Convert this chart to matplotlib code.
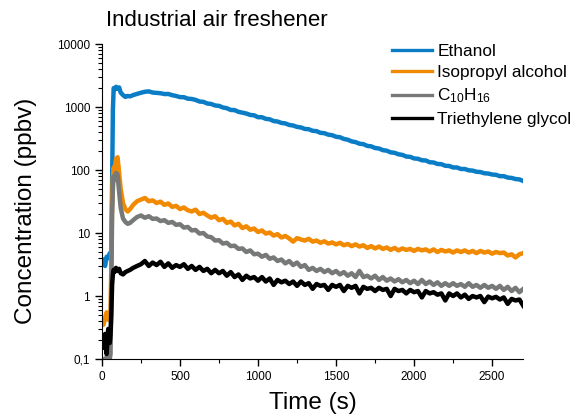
import matplotlib.pyplot as plt
from matplotlib.ticker import FixedLocator, FuncFormatter, LogLocator, MultipleLocator

plt.rcParams['font.family'] = ['Liberation Sans', 'DejaVu Sans']
plt.rcParams['mathtext.fontset'] = 'custom'
plt.rcParams['mathtext.rm'] = 'Liberation Sans'
plt.rcParams['mathtext.it'] = 'Liberation Sans:italic'

# time axis (s)
time = [0, 10, 20, 30, 40, 50, 55, 60, 65, 70, 75, 80, 90, 100, 110, 120, 135, 150, 165, 180, 200, 225,
        250, 275, 300, 325, 350, 375, 400, 425, 450, 475,
        500, 525, 550, 575, 600, 625, 650, 675, 700, 725,
        750, 775, 800, 825, 850, 875, 900, 925, 950, 975,
        1000, 1025, 1050, 1075, 1100, 1125, 1150, 1175, 1200, 1225,
        1250, 1275, 1300, 1325, 1350, 1375, 1400, 1425, 1450, 1475,
        1500, 1525, 1550, 1575, 1600, 1625, 1650, 1675, 1700, 1725,
        1750, 1775, 1800, 1825, 1850, 1875, 1900, 1925, 1950, 1975,
        2000, 2025, 2050, 2075, 2100, 2125, 2150, 2175, 2200, 2225,
        2250, 2275, 2300, 2325, 2350, 2375, 2400, 2425, 2450, 2475,
        2500, 2525, 2550, 2575, 2600, 2625, 2650, 2675, 2700]

# concentrations (ppbv)
ethanol = [3.2, 3.8, 3.0, 4.2, 4.0, 4.8, 4.5, 5.0, 60, 900, 2000, 1900, 2100, 1950, 2050, 1700, 1550, 1450, 1500, 1480, 1550, 1620,
           1690, 1750, 1775, 1700, 1680, 1660, 1610, 1615, 1545, 1500,
           1440, 1435, 1360, 1345, 1300, 1225, 1210, 1140, 1120, 1060,
           1045, 985, 960, 900, 895, 840, 815, 790, 750, 740,
           690, 690, 650, 640, 600, 590, 560, 550, 520, 510,
           485, 475, 450, 445, 420, 415, 390, 385, 365, 358,
           338, 332, 312, 303, 285, 278, 262, 258, 242, 238,
           224, 220, 207, 203, 191, 188, 178, 174, 164, 162,
           153, 151, 143, 142, 133, 132, 125, 124, 117, 116,
           110, 110, 104, 104, 99, 98, 94, 93, 89, 88,
           85, 84, 80, 80, 76, 75, 72, 71, 67]

isopropyl = [0.40, 0.35, 0.45, 0.55, 0.42, 0.50, 0.60, 3.0, 30, 80, 110, 100, 150, 160, 90, 50, 30, 24, 22, 24, 28, 32,
             34, 36, 32, 33, 30, 31.5, 28, 29.5, 26, 27,
             24, 25.5, 23, 22, 23.5, 20, 21, 19, 17.5, 18.5,
             16, 16.8, 14.5, 15.2, 13.2, 14, 12, 12.8, 11.3, 11.8,
             10.4, 11, 9.8, 10.2, 9.1, 9.6, 8.5, 9.0, 8.2, 7.3,
             8.3, 7.9, 7.6, 8.1, 7.3, 7.6, 7.0, 7.4, 6.8, 7.1,
             6.6, 7.0, 6.4, 6.7, 6.2, 6.6, 6.1, 6.4, 5.8, 6.2,
             5.7, 6.1, 5.6, 5.9, 5.4, 5.8, 5.3, 5.7, 5.4, 5.6,
             5.2, 5.6, 5.3, 5.5, 5.1, 5.5, 5.0, 5.4, 5.1, 5.3,
             4.9, 5.3, 5.0, 5.3, 4.9, 5.2, 4.8, 5.2, 4.9, 5.1,
             4.7, 5.0, 4.8, 4.9, 4.4, 4.6, 4.1, 4.6, 4.8]

c10h16 = [0.09, 0.10, 0.085, 0.11, 0.14, 0.10, 0.12, 1.5, 20, 50, 80, 70, 90, 85, 45, 25, 17, 15, 14, 14.5, 16, 18,
          19, 17.5, 18.5, 16.8, 17, 15.5, 16, 14.5, 15, 13.5,
          13.8, 12.2, 12.5, 11, 11.2, 9.8, 10, 8.8, 8.6, 7.6,
          7.7, 6.8, 7.0, 6.2, 6.3, 5.6, 5.7, 5.0, 5.3, 4.6,
          4.7, 4.2, 4.5, 3.9, 4.1, 3.6, 3.8, 3.3, 3.6, 3.1,
          3.4, 2.9, 3.1, 2.6, 2.8, 2.5, 2.7, 2.4, 2.6, 2.3,
          2.5, 2.2, 2.4, 2.1, 2.3, 2.0, 2.5, 2.0, 2.1, 1.9,
          2.1, 1.8, 2.0, 1.75, 1.9, 1.7, 1.85, 1.65, 1.8, 1.6,
          1.75, 1.55, 1.8, 1.55, 1.7, 1.5, 1.65, 1.45, 1.6, 1.45,
          1.6, 1.45, 1.55, 1.4, 1.6, 1.4, 1.5, 1.35, 1.5, 1.35,
          1.45, 1.3, 1.45, 1.25, 1.4, 1.2, 1.35, 1.15, 1.3]

glycol = [0.20, 0.15, 0.25, 0.12, 0.30, 0.18, 0.25, 0.50, 1.5, 2.2, 2.6, 2.4, 2.8, 2.5, 2.7, 2.3, 2.2, 2.4, 2.5, 2.6, 2.8, 3.0,
          3.2, 3.6, 3.0, 3.4, 3.1, 3.5, 2.9, 3.3, 2.8, 3.1,
          2.9, 3.2, 2.7, 3.0, 2.6, 2.9, 2.5, 2.7, 2.3, 2.6,
          2.3, 2.5, 2.1, 2.4, 2.0, 2.2, 1.8, 2.1, 1.9, 2.0,
          1.75, 2.0, 1.7, 1.9, 1.5, 1.8, 1.65, 1.75, 1.55, 1.7,
          1.45, 1.7, 1.5, 1.6, 1.3, 1.55, 1.45, 1.5, 1.25, 1.5,
          1.4, 1.5, 1.2, 1.45, 1.35, 1.45, 1.1, 1.4, 1.3, 1.35,
          1.2, 1.35, 1.25, 1.3, 1.0, 1.3, 1.2, 1.25, 1.1, 1.25,
          1.15, 1.2, 0.95, 1.2, 1.1, 1.15, 1.05, 1.1, 0.85, 1.1,
          1.0, 1.1, 0.95, 1.05, 0.9, 1.0, 0.95, 1.0, 0.8, 0.98,
          0.92, 0.97, 0.88, 0.95, 0.75, 0.9, 0.85, 0.88, 0.7]

series = [
    ('Ethanol', ethanol, '#0a7dc6'),
    ('Isopropyl alcohol', isopropyl, '#f18a00'),
    ('C$_{10}$H$_{16}$', c10h16, '#777878'),
    ('Triethylene glycol', glycol, '#000000'),
]

fig = plt.figure(figsize=(5.86, 4.16), dpi=100)
ax = fig.add_axes([0.174, 0.137, 0.719, 0.757])

for name, vals, col in series:
    ax.plot(time, vals, color=col, lw=3.2, label=name)

ax.set_yscale('log')
ax.set_ylim(0.1, 10000)
ax.set_xlim(0, 2700)

ax.yaxis.set_major_locator(FixedLocator([0.1, 1, 10, 100, 1000, 10000]))
ax.yaxis.set_minor_locator(LogLocator(base=10, subs=range(2, 10)))
ax.yaxis.set_major_formatter(FuncFormatter(lambda v, p: '0,1' if v < 1 else '%d' % v))
ax.xaxis.set_major_locator(MultipleLocator(500))
ax.xaxis.set_minor_locator(MultipleLocator(250))

ax.spines['top'].set_visible(False)
ax.spines['right'].set_visible(False)
ax.tick_params(which='major', length=5, width=1, labelsize=8.5, direction='out')
ax.tick_params(which='minor', length=3, width=0.8, direction='out')

ax.set_xlabel('Time (s)', fontsize=17.5)
ax.xaxis.set_label_coords(0.5, -0.105)
ax.set_ylabel('Concentration (ppbv)', fontsize=17.5)
ax.yaxis.set_label_coords(-0.155, 0.47)
fig.text(0.181, 0.95, 'Industrial air freshener', fontsize=16, va='center', ha='left')

leg = ax.legend(loc='upper left', bbox_to_anchor=(0.673, 1.023), frameon=False, fontsize=12.4,
                handlelength=2.3, handletextpad=0.3, labelspacing=0.37, borderaxespad=0)
for line in leg.get_lines():
    line.set_linewidth(2.4)

fig.savefig('out.png', dpi=100)
